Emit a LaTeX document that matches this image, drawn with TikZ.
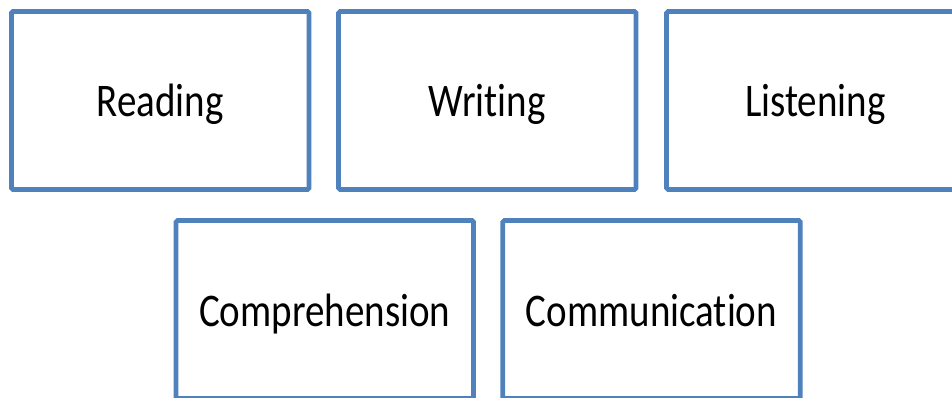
\documentclass[tikz,border=0pt]{standalone}
\usepackage{fontspec}
\setmainfont{Carlito}[Ligatures={NoCommon}]
\usepackage{graphicx}
\definecolor{boxblue}{HTML}{4F81BD}
% labels are set a little taller than wide
\newcommand{\tallabel}[1]{\scalebox{1}[1.2]{#1}}
\begin{document}
\begin{tikzpicture}[x=1pt,y=-1pt,
  skillbox/.style={draw=boxblue, line width=4.6pt, fill=white, rounded corners=1.5pt,
    minimum width=297.5pt, minimum height=178pt, inner sep=0pt, outer sep=0pt,
    text height=40pt, text depth=7pt,
    font=\fontsize{39}{46}\selectfont, text=black}]
  \useasboundingbox (0,0) rectangle (952,398);
  \clip (0,0) rectangle (952,398);
  % top row
  \node[skillbox] (reading)   at (160.25,100.5) {\tallabel{Reading}};
  \node[skillbox] (writing)   at (487.25,100.5) {\tallabel{Writing}};
  \node[skillbox] (listening) at (815.25,100.5) {\tallabel{Listening}};
  % bottom row
  \node[skillbox] (comprehension) at (324.75,309.5) {\tallabel{Comprehension}};
  \node[skillbox] (communication) at (651.5,309.5) {\tallabel{Communication}};
\end{tikzpicture}
\end{document}
